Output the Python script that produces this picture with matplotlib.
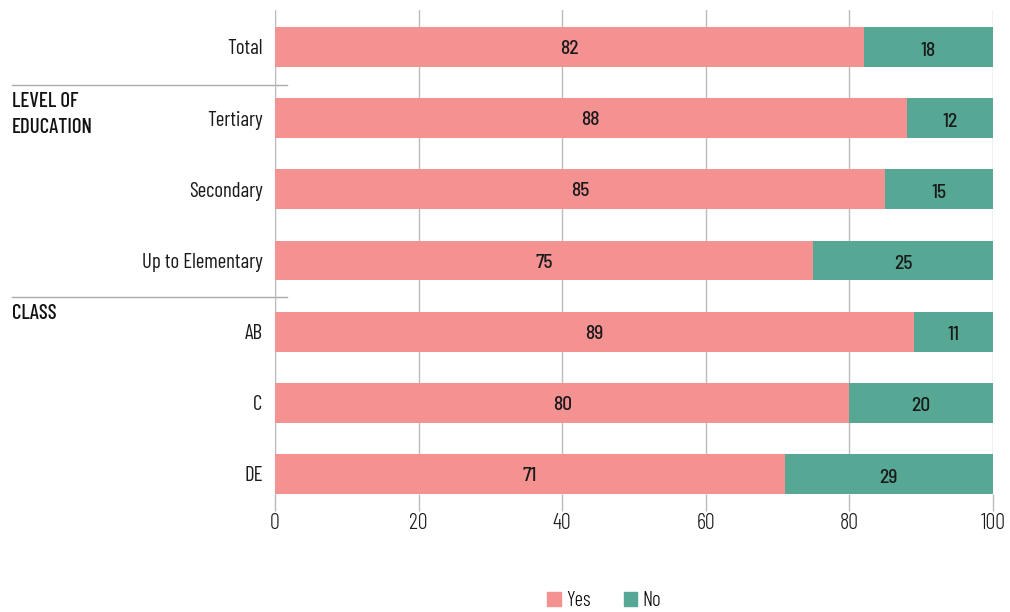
import matplotlib
matplotlib.use('Agg')
import matplotlib.pyplot as plt
from matplotlib.patches import Patch
import matplotlib.transforms as mtransforms

plt.rcParams['font.family'] = ['Barlow Condensed', 'DejaVu Sans']

# data
categories = ['Total', 'Tertiary', 'Secondary', 'Up to Elementary', 'AB', 'C', 'DE']
yes = [82, 88, 85, 75, 89, 80, 71]
no = [18, 12, 15, 25, 11, 20, 29]
groups = [('LEVEL OF\nEDUCATION', 0.53), ('CLASS', 3.51)]

c_yes = '#F49191'
c_no = '#56A894'

fig = plt.figure(figsize=(10.1, 6.12), dpi=100)
ax = fig.add_axes([0.2723, 0.193, 0.7107, 0.7907])

pos = list(range(len(categories)))
ax.barh(pos, yes, height=0.56, color=c_yes, zorder=3)
ax.barh(pos, no, left=yes, height=0.56, color=c_no, zorder=3)

# value labels inside each segment
val_font = ['Barlow Semi Condensed', 'DejaVu Sans']
for i in pos:
    ax.text(yes[i] / 2, i + 0.03, str(yes[i]), ha='center', va='center', fontsize=14, fontweight=500,
            family=val_font, color='#1a1a1a', zorder=4)
    ax.text(yes[i] + no[i] / 2, i + 0.05, str(no[i]), ha='center', va='center', fontsize=14, fontweight=500,
            family=val_font, color='#1a1a1a', zorder=4)

ax.set_xlim(0, 100)
ax.set_ylim(6.28, -0.52)
ax.set_yticks(pos)
ax.set_yticklabels(categories, fontsize=15, fontweight=400, color='#1a1a1a')
ax.set_xticks([0, 20, 40, 60, 80, 100])
ax.set_xticklabels(['0', '20', '40', '60', '80', '100'], fontsize=16, fontweight=300, color='#1a1a1a')
ax.tick_params(axis='x', length=12, width=1, color='#bbbbbb', pad=2)
ax.tick_params(axis='y', length=0, pad=9)
ax.grid(axis='x', color='#bbbbbb', linewidth=1, zorder=0)
for s in ['top', 'right', 'bottom']:
    ax.spines[s].set_visible(False)
ax.spines['left'].set_color('#bbbbbb')
ax.spines['left'].set_bounds(6.5, -0.52)

# group separators and labels
trans = mtransforms.blended_transform_factory(fig.transFigure, ax.transData)
for label, yv in groups:
    ax.plot([12 / 1010, 287 / 1010], [yv, yv], transform=trans, color='#aaaaaa', linewidth=1, clip_on=False)
    ax.text(12 / 1010, yv + 0.1, label, transform=trans, ha='left', va='top', fontsize=15, fontweight=500,
            color='#111111', linespacing=1.45)

handles = [Patch(color=c_yes, label='Yes'), Patch(color=c_no, label='No')]
fig.legend(handles=handles, loc='lower center', bbox_to_anchor=(0.598, -0.028), ncol=2, frameon=False,
           prop={'size': 15, 'weight': 300}, handlelength=0.65, handleheight=0.65, handletextpad=0.25,
           columnspacing=1.6)

fig.savefig('out.png', dpi=100)
